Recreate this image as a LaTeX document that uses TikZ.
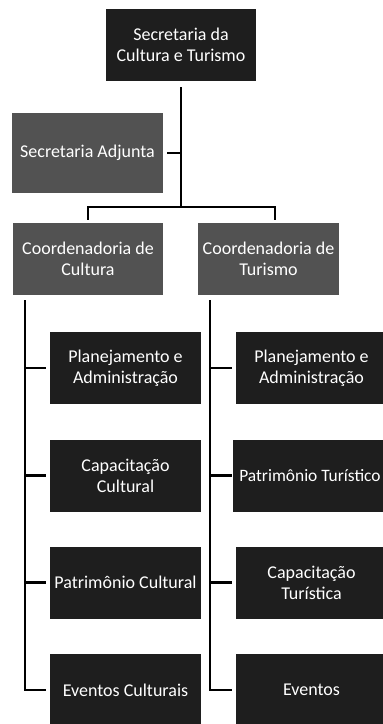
\documentclass[tikz,border=0pt]{standalone}
\usepackage{fontspec}
\setmainfont{Carlito}
\definecolor{boxdark}{HTML}{1E1E1E}
\definecolor{boxmid}{HTML}{525252}
\begin{document}
\begin{tikzpicture}[x=1pt,y=-1pt,
  box/.style={draw=none, minimum width=151pt, minimum height=72pt, inner sep=0pt,
    align=center, text=white, font=\fontsize{18}{21}\selectfont},
  dark/.style={box, fill=boxdark},
  mid/.style={box, fill=boxmid},
  conn/.style={line width=2.6pt, black}]
\useasboundingbox (0,0) rectangle (383,724);
\clip (0,0) rectangle (383,724);
% top
\node[dark, minimum width=150pt] (sec) at (181,45) {Secretaria da\\Cultura e Turismo};
\node[mid, minimum height=80pt] (adj) at (87.5,153) {Secretaria Adjunta};
\node[mid, minimum width=150pt] (cc) at (88,259) {Coordenadoria de\\Cultura};
\node[mid, minimum width=141pt] (ct) at (268.5,259) {Coordenadoria de\\Turismo};
% left column
\node[dark] (pa1) at (125.5,368) {Planejamento e\\Administração};
\node[dark] (cap1) at (125.5,475.5) {Capacitação\\Cultural};
\node[dark] (pat1) at (125.5,582.5) {Patrimônio Cultural};
\node[dark] (ev1) at (125.5,690) {Eventos Culturais};
% right column
\node[dark] (pa2) at (311.5,368) {Planejamento e\\Administração};
\node[dark, minimum width=154pt, font=\fontsize{17.4}{21}\selectfont] (pat2) at (310,475.5) {Patrimônio Turístico};
\node[dark] (cap2) at (311.5,582.5) {Capacitação\\Turística};
\node[dark] (ev2) at (311.5,690) {Eventos};
% connectors
\coordinate (bus) at (181,207);
\draw[conn] ([yshift=-6pt]sec.south) -- (bus);
\draw[conn] ([xshift=4pt]adj.east) -- (adj.east -| bus);
\draw[conn] ([yshift=3pt]cc.north) |- (bus) -| ([xshift=6.5pt,yshift=3pt]ct.north);
\coordinate (ls) at (25,300);
\coordinate (rs) at (210,300);
\draw[conn] (ls) |- ([xshift=-4pt]ev1.west);
\draw[conn] ([xshift=-4pt]pa1.west) -- (pa1.west -| ls);
\draw[conn] ([xshift=-4pt]cap1.west) -- (cap1.west -| ls);
\draw[conn] ([xshift=-4pt]pat1.west) -- (pat1.west -| ls);
\draw[conn] (rs) |- ([xshift=-4pt]ev2.west);
\draw[conn] ([xshift=-4pt]pa2.west) -- (pa2.west -| rs);
\draw[conn] ([xshift=-1pt]pat2.west) -- (pat2.west -| rs);
\draw[conn] ([xshift=-4pt]cap2.west) -- (cap2.west -| rs);
\end{tikzpicture}
\end{document}
